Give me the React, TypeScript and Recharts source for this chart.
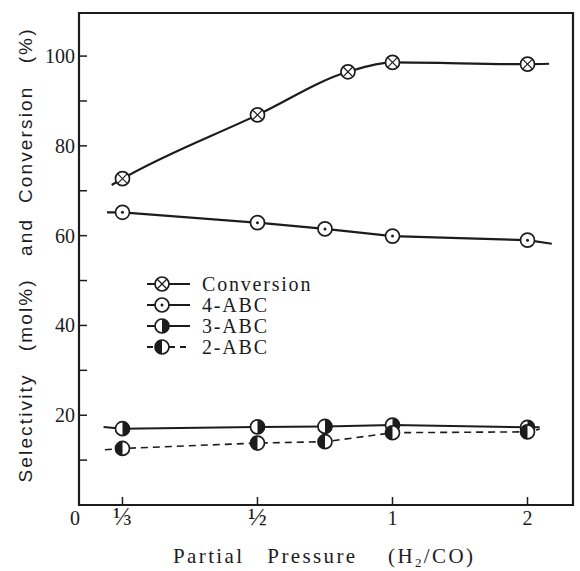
import React from 'react';
import { LineChart, Line, XAxis, YAxis, ReferenceArea, Legend } from 'recharts';

// ---- axis definitions ----
const xMin = 0.678;
const xMax = 4.337;
const yMax = 109.6;
const xTickPositions = [xMin, 1, 2, 3, 4];
const xTickLabels = ['0', '⅓', '½', '1', '2'];
const yTicks = [10, 20, 30, 40, 50, 60, 70, 80, 90, 100];
const yLabelled = [20, 40, 60, 80, 100];

// ---- series (x = axis position, y = %) ----
const conversionX = [0.92, 1, 2, 2.67, 3, 4, 4.16];
const conversionY = [71.3, 72.7, 86.9, 96.5, 98.6, 98.2, 98.3];
const conversionMarked = [0, 1, 1, 1, 1, 1, 0];

const abc4X = [0.885, 1, 2, 2.5, 3, 4, 4.18];
const abc4Y = [65.2, 65.2, 62.9, 61.5, 59.9, 59.0, 58.2];
const abc4Marked = [0, 1, 1, 1, 1, 1, 0];

const abc3X = [0.86, 1, 2, 2.5, 3, 4, 4.09];
const abc3Y = [17.4, 17.0, 17.4, 17.5, 17.8, 17.3, 17.3];
const abc3Marked = [0, 1, 1, 1, 1, 1, 0];

const abc2X = [0.87, 1, 2, 2.5, 3, 4, 4.09];
const abc2Y = [12.3, 12.6, 13.8, 14.1, 16.1, 16.3, 16.9];
const abc2Marked = [0, 1, 1, 1, 1, 1, 0];

const legendNames = ['Conversion', '4-ABC', '3-ABC', '2-ABC'];

const INK = '#1c1c1c';
const SERIF = '"Liberation Serif", "DejaVu Serif", serif';
const SANS = '"Liberation Sans", "DejaVu Sans", sans-serif';

const zip = (xs: number[], ys: number[], ms: number[]) =>
  xs.map((x, i) => ({ x, y: ys[i], m: ms[i] }));

const conversionData = zip(conversionX, conversionY, conversionMarked);
const abc4Data = zip(abc4X, abc4Y, abc4Marked);
const abc3Data = zip(abc3X, abc3Y, abc3Marked);
const abc2Data = zip(abc2X, abc2Y, abc2Marked);

type Kind = 'cross' | 'dot' | 'halfRight' | 'halfLeft';

function Marker({ cx, cy, kind }: { cx: number; cy: number; kind: Kind }) {
  const r = 7;
  const d = r * 0.68;
  return (
    <g>
      <circle cx={cx} cy={cy} r={r} fill="#fff" stroke={INK} strokeWidth={1.7} />
      {kind === 'cross' && (
        <g stroke={INK} strokeWidth={1.2}>
          <line x1={cx - d} y1={cy - d} x2={cx + d} y2={cy + d} />
          <line x1={cx - d} y1={cy + d} x2={cx + d} y2={cy - d} />
        </g>
      )}
      {kind === 'dot' && <circle cx={cx} cy={cy} r={1.5} fill={INK} />}
      {kind === 'halfRight' && (
        <path d={`M ${cx} ${cy - r} A ${r} ${r} 0 0 1 ${cx} ${cy + r} Z`} fill={INK} />
      )}
      {kind === 'halfLeft' && (
        <path d={`M ${cx} ${cy - r} A ${r} ${r} 0 0 0 ${cx} ${cy + r} Z`} fill={INK} />
      )}
    </g>
  );
}

const makeDot = (kind: Kind) => (p: any) => {
  if (!p.payload || !p.payload.m) return <g key={`e-${kind}-${p.index}`} />;
  return (
    <g key={`m-${kind}-${p.index}`}>
      <Marker cx={p.cx} cy={p.cy} kind={kind} />
    </g>
  );
};

const XTick = (props: any) => {
  const { x, y, payload } = props;
  const i = xTickPositions.findIndex((v) => Math.abs(v - payload.value) < 1e-6);
  const isOrigin = i === 0;
  const frac = xTickLabels[i] === '⅓' || xTickLabels[i] === '½';
  return (
    <g>
      {!isOrigin && <line x1={x} x2={x} y1={y} y2={y - 8} stroke={INK} strokeWidth={1.5} />}
      <text
        x={isOrigin ? x - 4 : x}
        y={y + 20}
        textAnchor="middle"
        fontFamily={SERIF}
        fontSize={frac ? 25 : 20}
        fill={INK}
      >
        {xTickLabels[i]}
      </text>
    </g>
  );
};

const YTick = (props: any) => {
  const { x, y, payload } = props;
  const labelled = yLabelled.includes(payload.value);
  return (
    <g>
      <line x1={x} x2={x + 8} y1={y} y2={y} stroke={INK} strokeWidth={1.5} />
      {labelled && (
        <text x={x - 4} y={y + 7} textAnchor="end" fontFamily={SERIF} fontSize={20} fill={INK}>
          {payload.value}
        </text>
      )}
    </g>
  );
};

const YTitle = () => (
  <text
    x={25}
    y={256}
    transform="rotate(-90 25 256)"
    textAnchor="middle"
    dominantBaseline="central"
    fontFamily={SANS}
    fontSize={19}
    fill={INK}
    textLength={453}
    lengthAdjust="spacing"
    xmlSpace="preserve"
  >
    {'Selectivity   (mol%)   and  Conversion   (%)'}
  </text>
);

const XTitle = () => (
  <text
    x={323}
    y={563}
    textAnchor="middle"
    fontFamily={SERIF}
    fontSize={21}
    fill={INK}
    textLength={300}
    lengthAdjust="spacing"
    xmlSpace="preserve"
  >
    {'Partial   Pressure    (H'}
    <tspan fontSize={13} dy={4}>2</tspan>
    <tspan dy={-4}>{'/CO)'}</tspan>
  </text>
);

const legendKinds: Kind[] = ['cross', 'dot', 'halfRight', 'halfLeft'];

const LegendContent = () => (
  <svg width={220} height={92} style={{ overflow: 'visible' }}>
    {legendNames.map((name, i) => {
      const cy = 14 + i * 21;
      const dashed = i === 3;
      return (
        <g key={name}>
          <line
            x1={7}
            x2={50}
            y1={cy}
            y2={cy}
            stroke={INK}
            strokeWidth={2}
            strokeDasharray={dashed ? '6 5' : undefined}
          />
          <Marker cx={22} cy={cy} kind={legendKinds[i]} />
          <text
            x={62}
            y={cy}
            dominantBaseline="central"
            fontFamily={SERIF}
            fontSize={20}
            letterSpacing={1.8}
            fill={INK}
          >
            {name}
          </text>
        </g>
      );
    })}
  </svg>
);

export default function App() {
  return (
    <div style={{ position: 'absolute', left: 0, top: 0, background: '#fff' }}>
      <LineChart width={580} height={571} margin={{ top: 13, right: 7, bottom: 0, left: 0 }}>
        <XAxis
          type="number"
          dataKey="x"
          domain={[xMin, xMax]}
          ticks={xTickPositions}
          interval={0}
          allowDataOverflow
          axisLine={false}
          tickLine={false}
          tickSize={0}
          tickMargin={0}
          height={66}
          tick={<XTick />}
          label={{ content: () => <XTitle /> }}
        />
        <YAxis
          type="number"
          domain={[0, yMax]}
          ticks={yTicks}
          interval={0}
          allowDataOverflow
          axisLine={false}
          tickLine={false}
          tickSize={0}
          tickMargin={0}
          width={79}
          tick={<YTick />}
          label={{ content: () => <YTitle /> }}
        />
        <ReferenceArea
          x1={xMin}
          x2={xMax}
          y1={0}
          y2={yMax}
          fill="none"
          stroke={INK}
          strokeWidth={2.2}
          ifOverflow="visible"
        />
        <Legend
          layout="vertical"
          align="center"
          verticalAlign="middle"
          content={() => <LegendContent />}
          wrapperStyle={{ position: 'absolute', left: 140, top: 270, width: 220, height: 92 }}
        />
        <Line
          data={conversionData}
          dataKey="y"
          type="monotone"
          stroke={INK}
          strokeWidth={2.2}
          dot={makeDot('cross')}
          activeDot={false}
          isAnimationActive={false}
        />
        <Line
          data={abc4Data}
          dataKey="y"
          type="linear"
          stroke={INK}
          strokeWidth={2.2}
          dot={makeDot('dot')}
          activeDot={false}
          isAnimationActive={false}
        />
        <Line
          data={abc3Data}
          dataKey="y"
          type="linear"
          stroke={INK}
          strokeWidth={2}
          dot={makeDot('halfRight')}
          activeDot={false}
          isAnimationActive={false}
        />
        <Line
          data={abc2Data}
          dataKey="y"
          type="linear"
          stroke={INK}
          strokeWidth={1.6}
          strokeDasharray="7 5"
          dot={makeDot('halfLeft')}
          activeDot={false}
          isAnimationActive={false}
        />
      </LineChart>
    </div>
  );
}
